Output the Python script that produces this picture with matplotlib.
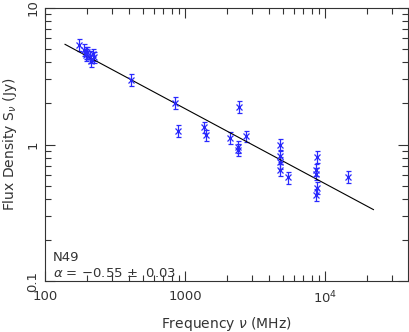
import numpy as np
import matplotlib
matplotlib.use("Agg")
import matplotlib.pyplot as plt
from matplotlib.ticker import LogLocator, FixedLocator, FixedFormatter, NullFormatter

# Data (MHz, Jy)
freq = [175, 191, 196, 201, 195, 210, 212, 221, 225,
        409, 844, 887, 1374, 1413, 2085, 2393, 2393, 2443, 2700,
        4720, 4720, 4720, 4720, 5470,
        8730, 8600, 8650, 8800, 8650, 14500]
flux = [5.36, 4.92, 4.71, 4.73, 4.53, 4.40, 4.11, 4.58, 4.36,
        2.97, 2.02, 1.26, 1.34, 1.17, 1.12, 0.96, 0.91, 1.88, 1.15,
        1.00, 0.83, 0.74, 0.65, 0.575,
        0.81, 0.65, 0.61, 0.48, 0.43, 0.58]
rel_err = 0.10
alpha = -0.55
s_1ghz = 1.83
fit_range = [139, 22100]

fig = plt.figure(figsize=(4.09, 3.32), dpi=100)
ax = fig.add_axes([45/409, 1-281/332, 363/409, 273/332])

freq_a = np.array(freq)
flux_a = np.array(flux)
ax.errorbar(freq_a, flux_a, yerr=rel_err*flux_a, fmt='x', color='#2a2aff',
            ms=4.5, mew=0.9, elinewidth=0.9, capsize=1.8, capthick=0.9)
ax.plot(freq_a, flux_a, '.', color='#1010c0', ms=2)

fx = np.array(fit_range, dtype=float)
ax.plot(fx, s_1ghz*(fx/1000.0)**alpha, color='black', lw=0.8)

ax.set_xscale('log')
ax.set_yscale('log')
ax.set_xlim(100, 3.9e4)
ax.set_ylim(0.1, 10)

ax.xaxis.set_major_locator(FixedLocator([100, 1000, 10000]))
ax.xaxis.set_major_formatter(FixedFormatter(['100', '1000', r'$10^4$']))
ax.yaxis.set_major_locator(FixedLocator([0.1, 1, 10]))
ax.yaxis.set_major_formatter(FixedFormatter(['0.1', '1', '10']))
ax.xaxis.set_minor_locator(LogLocator(base=10, subs=np.arange(2, 10), numticks=20))
ax.yaxis.set_minor_locator(LogLocator(base=10, subs=np.arange(2, 10), numticks=20))
ax.xaxis.set_minor_formatter(NullFormatter())
ax.yaxis.set_minor_formatter(NullFormatter())

ax.tick_params(which='both', direction='in', top=True, right=True, color='#333333',
               width=0.8, labelsize=9.5, labelcolor='#333333')
ax.tick_params(which='major', length=7)
ax.tick_params(which='minor', length=4)
ax.tick_params(axis='x', pad=6.5)
ax.tick_params(axis='y', pad=4)
for lab in ax.get_yticklabels():
    lab.set_rotation(90)
    lab.set_va('center')
for sp in ax.spines.values():
    sp.set_linewidth(0.8)
    sp.set_color('#333333')

ax.set_xlabel(r'Frequency $\nu$ (MHz)', fontsize=10, color='#333333', labelpad=6)
ax.set_ylabel(r'Flux Density S$_\nu$ (Jy)', fontsize=10, color='#333333', labelpad=5)

ax.text(0.022, 0.073, 'N49', transform=ax.transAxes, fontsize=9.5, color='#333333')
ax.text(0.022, 0.015, r'$\alpha$ = $-$0.55 $\pm$  0.03', transform=ax.transAxes,
        fontsize=9.5, color='#333333')

fig.savefig('out.png', dpi=100)
